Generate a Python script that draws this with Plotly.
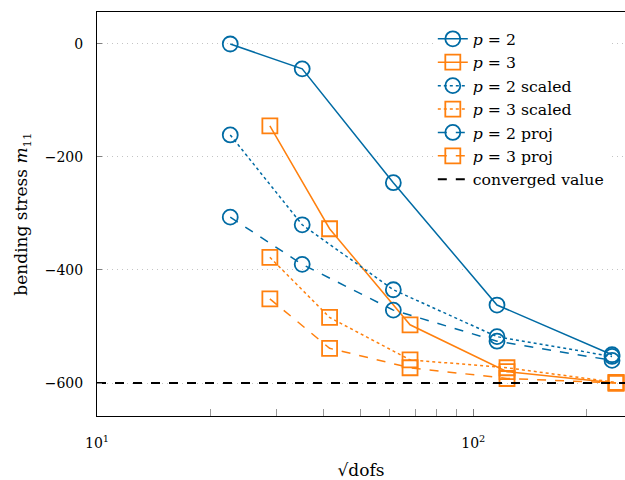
import plotly.graph_objects as go

# sqrt(dofs) for the two polynomial degrees
sqrt_dofs_p2 = [22.6, 35.1, 61.3, 115.6, 233.7]
sqrt_dofs_p3 = [28.8, 41.5, 67.9, 122.9, 239.5]

# bending stress m11 per refinement level
m11_p2 = [0.0, -44.0, -245.5, -462.0, -550.0]
m11_p3 = [-145.0, -327.0, -497.0, -580.0, -600.0]
m11_p2_scaled = [-161.0, -320.0, -435.0, -518.0, -553.0]
m11_p3_scaled = [-377.5, -484.0, -559.0, -573.0, -599.0]
m11_p2_proj = [-306.5, -390.0, -471.0, -526.0, -560.0]
m11_p3_proj = [-451.0, -538.6, -573.0, -592.0, -600.0]

converged_value = -600.0

x_ticks = [10, 100]
x_tick_text = ["10<sup>1</sup>", "10<sup>2</sup>"]
x_minor_ticks = [20, 30, 40, 50, 60, 70, 80, 90, 200]
y_ticks = [0, -200, -400, -600]
y_tick_text = ["0", "\u2212200", "\u2212400", "\u2212600"]

BLUE = "#006ba4"
ORANGE = "#ff800e"
FONT = "DejaVu Serif"

x_range_log = [1.0, 2.4031]
y_range = [-658.4, 56.6]

series = [
    ("<i>p</i> = 2", sqrt_dofs_p2, m11_p2, BLUE, "solid", "circle-open"),
    ("<i>p</i> = 3", sqrt_dofs_p3, m11_p3, ORANGE, "solid", "square-open"),
    ("<i>p</i> = 2 scaled", sqrt_dofs_p2, m11_p2_scaled, BLUE, "dot", "circle-open"),
    ("<i>p</i> = 3 scaled", sqrt_dofs_p3, m11_p3_scaled, ORANGE, "dot", "square-open"),
    ("<i>p</i> = 2 proj", sqrt_dofs_p2, m11_p2_proj, BLUE, "dash", "circle-open"),
    ("<i>p</i> = 3 proj", sqrt_dofs_p3, m11_p3_proj, ORANGE, "dash", "square-open"),
]

fig = go.Figure()

# converged reference line spans the whole x axis
x_span = [10 ** x_range_log[0], 10 ** x_range_log[1]]

for name, xs, ys, color, dash, symbol in series:
    fig.add_trace(go.Scatter(
        x=xs, y=ys, name=name, mode="lines+markers",
        line=dict(color=color, width=1.5, dash=dash),
        marker=dict(symbol=symbol, size=15, color=color, line=dict(width=1.8, color=color)),
    ))

fig.add_trace(go.Scatter(
    x=x_span, y=[converged_value, converged_value], name="converged value",
    mode="lines", line=dict(color="black", width=2, dash="dash"),
))

fig.update_layout(
    width=625, height=480,
    margin=dict(l=97, r=0, t=12, b=64),
    paper_bgcolor="white", plot_bgcolor="white",
    font=dict(family=FONT, size=13, color="black"),
    showlegend=True,
    legend=dict(
        x=0.636, y=0.975, xanchor="left", yanchor="top",
        bgcolor="white", borderwidth=0,
        font=dict(family=FONT, size=15.7), tracegroupgap=0,
    ),
)

fig.update_xaxes(
    type="log", range=x_range_log,
    tickmode="array", tickvals=x_ticks, ticktext=x_tick_text,
    ticks="inside", ticklen=7, tickcolor="#808080",
    minor=dict(tickmode="array", tickvals=x_minor_ticks, ticks="inside",
               ticklen=7, tickcolor="#999999", showgrid=False),
    showline=True, linecolor="black", linewidth=1, mirror=True,
    showgrid=False, zeroline=False,
    tickfont=dict(family=FONT, size=14),
    ticklabelstandoff=14,
    title=dict(text="\u221adofs", font=dict(family=FONT, size=17), standoff=14),
)

fig.update_yaxes(
    range=y_range,
    tickmode="array", tickvals=y_ticks, ticktext=y_tick_text,
    ticks="inside", ticklen=5, tickcolor="#808080",
    showline=True, linecolor="black", linewidth=1,
    showgrid=True, gridcolor="#c4c4c4", gridwidth=1, griddash="1px,4px",
    zeroline=False,
    tickfont=dict(family=FONT, size=14),
    ticklabelstandoff=10,
    title=dict(text="bending stress <i>m</i><sub>11</sub>", font=dict(family=FONT, size=17), standoff=12),
)

fig.write_html("out.html")
